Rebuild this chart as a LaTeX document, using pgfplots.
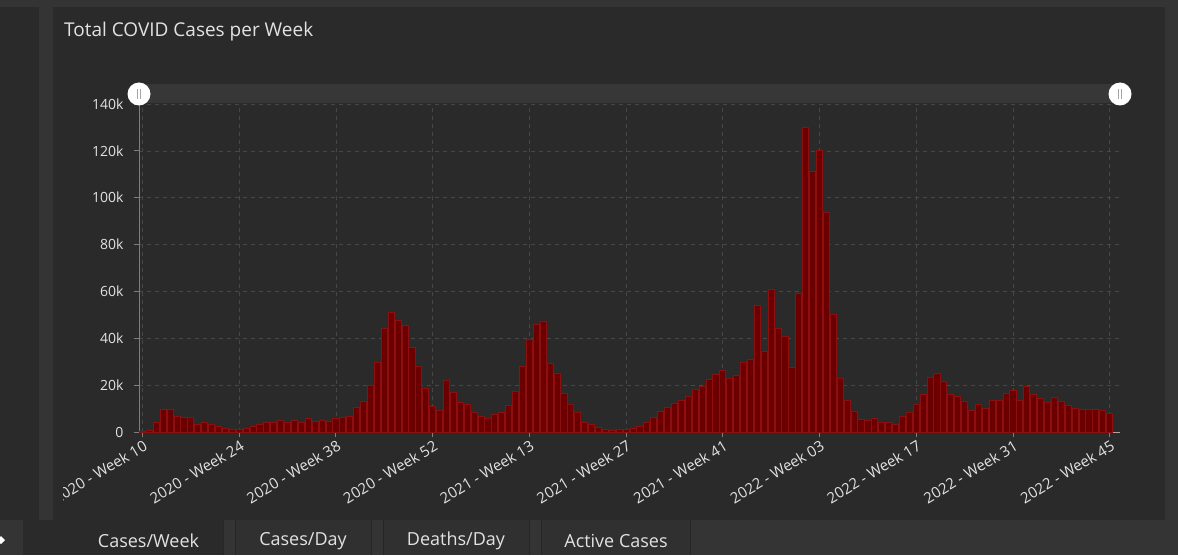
\documentclass[border=0pt]{standalone}
\usepackage{pgfplots}
\usepackage{pgfplotstable}
\pgfplotsset{compat=1.18}
\usepackage{fontspec}
\setmainfont{Open Sans}
\definecolor{outerbg}{HTML}{343434}
\definecolor{panelbg}{HTML}{2A2A2A}
\definecolor{bandbg}{HTML}{373737}
\definecolor{gridc}{HTML}{474747}
\definecolor{axisc}{HTML}{7E7E7E}
\definecolor{xaxc}{HTML}{B8A0A0}
\definecolor{txt}{HTML}{E2E2E2}
\definecolor{barfill}{HTML}{6C0000}
\definecolor{baredge}{HTML}{8C1010}
\definecolor{tabbg}{HTML}{303030}
\definecolor{tabline}{HTML}{262626}

\pgfplotstableread{
idx val
0 300
1 600
2 4100
3 9800
4 9800
5 6800
6 6200
7 6200
8 3300
9 4000
10 3300
11 2300
12 1700
13 1000
14 1000
15 1700
16 2300
17 3400
18 4000
19 4000
20 5100
21 4300
22 5100
23 4000
24 5700
25 4400
26 5100
27 4400
28 5700
29 6400
30 6800
31 10400
32 13000
33 19900
34 29800
35 44100
36 51000
37 47500
38 45300
39 36000
40 28200
41 18500
42 11000
43 9400
44 21900
45 16700
46 12800
47 11600
48 8500
49 6800
50 5800
51 7500
52 8500
53 11300
54 17200
55 28100
56 39400
57 45800
58 47400
59 29200
60 25200
61 16600
62 11900
63 8500
64 4000
65 3100
66 1800
67 1100
68 700
69 1100
70 1100
71 1700
72 2300
73 4000
74 6100
75 8600
76 10300
77 12000
78 13600
79 15000
80 18300
81 19400
82 22300
83 24700
84 26400
85 23000
86 24100
87 29900
88 31000
89 54000
90 34400
91 60900
92 44300
93 40900
94 27600
95 59100
96 130000
97 111100
98 120300
99 93700
100 50000
101 22900
102 13700
103 9000
104 5400
105 5100
106 5700
107 4300
108 4300
109 3100
110 6800
111 8500
112 11900
113 16000
114 23400
115 25000
116 21700
117 15900
118 15300
119 13200
120 9200
121 11900
122 10200
123 13600
124 13600
125 16500
126 17700
127 13600
128 19300
129 15900
130 14200
131 12600
132 14800
133 13000
134 11300
135 10200
136 9800
137 9800
138 9800
139 9200
140 7900
}\weekly

\begin{document}
\begin{tikzpicture}[x=1pt,y=1pt]
\useasboundingbox (0,0) rectangle (1178,555);
\fill[outerbg] (0,0) rectangle (1178,555);
% panels
\fill[panelbg] (0,35) rectangle (39,548);
\fill[panelbg] (53,35) rectangle (1165,548);
% tabs
\fill[panelbg] (23,0) rectangle (74,35);
\fill[panelbg] (74,0) rectangle (223,35);
\fill[tabbg] (235,0) rectangle (371,35);
\fill[tabbg] (383,0) rectangle (529,35);
\fill[tabbg] (541,0) rectangle (690,35);
\draw[tabline, line width=1pt] (223,0)--(223,35) (235,0)--(235,35) (371,0)--(371,35) (383,0)--(383,35) (529,0)--(529,35) (541,0)--(541,35) (690,0)--(690,35);
\fill[white] (-3,15) -- (1,19) -- (5,15) -- (1,11) -- cycle;
\node[anchor=center, text=txt, font=\fontsize{18}{20}\selectfont] at (148.5,14) {Cases/Week};
\node[anchor=center, text=txt, font=\fontsize{18}{20}\selectfont] at (303,14) {Cases/Day};
\node[anchor=center, text=txt, font=\fontsize{18}{20}\selectfont] at (456,14) {Deaths/Day};
\node[anchor=center, text=txt, font=\fontsize{18}{20}\selectfont] at (616,14) {Active Cases};
% title
\node[anchor=base west, text=txt, font=\fontsize{19}{21}\selectfont, inner sep=0pt] at (64,518) {Total COVID Cases per Week};
% slider band
\fill[bandbg] (139,451.5) rectangle (1120,471);
\begin{scope}
\clip (63,35) rectangle (1165,548);
\begin{axis}[
  at={(139pt,123pt)}, anchor=south west,
  scale only axis, width=981pt, height=328pt,
  xmin=-0.5, xmax=141.5, ymin=0, ymax=140000,
  axis x line*=bottom, axis y line*=left,
  x axis line style={color=xaxc, line width=0.9pt, -},
  y axis line style={color=axisc, line width=0.9pt, -},
  xtick={0,14,...,140},
  xticklabels={2020 - Week 10,2020 - Week 24,2020 - Week 38,2020 - Week 52,2021 - Week 13,2021 - Week 27,2021 - Week 41,2022 - Week 03,2022 - Week 17,2022 - Week 31,2022 - Week 45},
  ytick={0,20000,40000,60000,80000,100000,120000,140000},
  yticklabels={0,20k,40k,60k,80k,100k,120k,140k},
  scaled y ticks=false,
  tick align=outside, major tick length=5pt,
  tick style={color=axisc, line width=0.8pt},
  xmajorgrids, ymajorgrids,
  major grid style={color=gridc, dash pattern=on 4pt off 4pt, line width=0.7pt},
  xticklabel style={rotate=31, anchor=north east, font=\fontsize{15}{17}\selectfont, text=txt, inner sep=1pt, yshift=-1pt},
  yticklabel style={font=\fontsize{14}{16}\selectfont, text=txt, xshift=-7pt},
  clip=false,
]
\addplot[ybar, bar width=6.1pt, fill=barfill, draw=baredge, line width=0.8pt] table[x=idx,y=val]{\weekly};
\end{axis}
\end{scope}
% handles
\foreach \hx in {139,1120} {
  \fill[white] (\hx,461) circle (11.5);
  \draw[gray!70, line width=0.9pt] (\hx-1.6,456) -- (\hx-1.6,466) (\hx+1.6,456) -- (\hx+1.6,466);
}
\end{tikzpicture}
\end{document}
